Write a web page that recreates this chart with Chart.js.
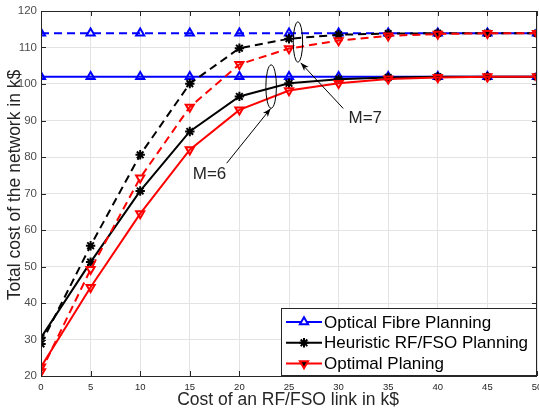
<!DOCTYPE html>
<html>
<head>
<meta charset="utf-8">
<script src="https://cdn.jsdelivr.net/npm/chart.js@4.4.0/dist/chart.umd.min.js"></script>
<style>
  html, body { margin: 0; padding: 0; background: #fff; }
  #wrap { width: 539px; height: 414px; }
</style>
</head>
<body>
<div id="wrap"><canvas id="myChart"></canvas></div>
<script>
// link cost in k$
var linkCost = [0, 5, 10, 15, 20, 25, 30, 35, 40, 45, 50];
var yTicks = [20, 30, 40, 50, 60, 70, 80, 90, 100, 110, 120];

// total network cost in k$ (M=6 solid, M=7 dashed)
var fibreM6 = [102, 102, 102, 102, 102, 102, 102, 102, 102, 102, 102];
var fibreM7 = [113.9, 113.9, 113.9, 113.9, 113.9, 113.9, 113.9, 113.9, 113.9, 113.9, 113.9];
var heurM6 = [30.5, 51.2, 70.7, 87, 96.6, 100.2, 101.3, 101.8, 102, 102, 102];
var heurM7 = [28.8, 55.7, 80.6, 100.1, 109.8, 112.4, 113.5, 113.8, 113.9, 113.9, 113.9];
var optM6 = [22.5, 44.3, 64.5, 82, 92.9, 98.2, 100.2, 101.4, 101.8, 102, 102];
var optM7 = [21.2, 49.2, 74.3, 93.7, 105.4, 109.7, 111.9, 113.2, 113.7, 113.9, 113.9];

var legendNames = ['Optical Fibre Planning', 'Heuristic RF/FSO Planning', 'Optimal Planing'];
var xTitle = 'Cost of an RF/FSO link in k$';
var yTitle = 'Total cost of the network in k$';

var FONT = '"Liberation Sans", Arial, sans-serif';
var TXT = '#262626';

function series(vals, color, style, rot, dashed, order) {
    return {
        data: vals,
        order: order,
        borderColor: color,
        borderWidth: 2,
        borderDash: dashed ? [8, 5] : [],
        pointStyle: style,
        pointRotation: rot,
        pointRadius: 4.7,
        pointBorderWidth: 2,
        pointBorderColor: color,
        pointBackgroundColor: 'rgba(0,0,0,0)',
        fill: false,
        tension: 0
    };
}

// box, ticks, titles, ellipses + arrows, legend
var decor = {
    id: 'decor',
    afterDraw: function(chart) {
        var ctx = chart.ctx, a = chart.chartArea;
        var x = chart.scales.x, y = chart.scales.y;
        ctx.save();
        // axes box
        ctx.strokeStyle = TXT;
        ctx.lineWidth = 1;
        ctx.strokeRect(a.left + 0.5, a.top + 0.5, a.right - a.left - 1, a.bottom - a.top);
        // inward ticks on all sides
        ctx.beginPath();
        linkCost.forEach(function(v) {
            var px = Math.round(x.getPixelForValue(v)) + 0.5;
            ctx.moveTo(px, a.bottom); ctx.lineTo(px, a.bottom - 5);
            ctx.moveTo(px, a.top); ctx.lineTo(px, a.top + 5);
        });
        yTicks.forEach(function(v) {
            var py = Math.round(y.getPixelForValue(v)) + 0.5;
            ctx.moveTo(a.left, py); ctx.lineTo(a.left + 5, py);
            ctx.moveTo(a.right, py); ctx.lineTo(a.right - 5, py);
        });
        ctx.stroke();

        // x tick labels (drawn here so the last one may run off the edge)
        ctx.fillStyle = TXT;
        ctx.font = '9.5px ' + FONT;
        ctx.textAlign = 'center';
        ctx.textBaseline = 'middle';
        linkCost.forEach(function(v) {
            ctx.fillText(String(v), x.getPixelForValue(v), a.bottom + 11);
        });

        // axis titles
        ctx.font = '17.5px ' + FONT;
        ctx.fillText(xTitle, 288, 400);
        ctx.save();
        ctx.translate(15.5, 185);
        ctx.rotate(-Math.PI / 2);
        ctx.fillText(yTitle, 0, 0);
        ctx.restore();

        // annotations
        ctx.strokeStyle = '#000';
        ctx.lineWidth = 1;
        function ellipse(vx, vy, rx, ry) {
            ctx.beginPath();
            ctx.ellipse(x.getPixelForValue(vx), y.getPixelForValue(vy), rx, ry, 0, 0, Math.PI * 2);
            ctx.stroke();
        }
        function arrow(x0, y0, x1, y1) {
            var ax = x.getPixelForValue(x0), ay = y.getPixelForValue(y0);
            var bx = x.getPixelForValue(x1), by = y.getPixelForValue(y1);
            ctx.beginPath(); ctx.moveTo(ax, ay); ctx.lineTo(bx, by); ctx.stroke();
            var ang = Math.atan2(by - ay, bx - ax);
            ctx.beginPath();
            ctx.moveTo(bx, by);
            ctx.lineTo(bx - 9 * Math.cos(ang - 0.35), by - 9 * Math.sin(ang - 0.35));
            ctx.lineTo(bx - 6 * Math.cos(ang), by - 6 * Math.sin(ang));
            ctx.lineTo(bx - 9 * Math.cos(ang + 0.35), by - 9 * Math.sin(ang + 0.35));
            ctx.closePath();
            ctx.fillStyle = '#000';
            ctx.fill();
        }
        ellipse(25.9, 111.5, 4.7, 20.3);
        ellipse(23.2, 99.3, 5.3, 21.7);
        arrow(18.72, 78.3, 23.15, 93.3);
        arrow(30.47, 93.3, 26.18, 105.8);
        ctx.fillStyle = TXT;
        ctx.font = '17px ' + FONT;
        ctx.textAlign = 'left';
        ctx.fillText('M=6', x.getPixelForValue(15.3), y.getPixelForValue(75.2));
        ctx.fillText('M=7', x.getPixelForValue(31.0), y.getPixelForValue(90.6));

        // legend box
        var lw = 256, lh = 68;
        var lx = a.right - lw, ly = a.bottom - lh;
        ctx.fillStyle = '#fff';
        ctx.fillRect(lx, ly, lw, lh);
        ctx.strokeStyle = TXT;
        ctx.strokeRect(lx + 0.5, ly + 0.5, lw - 1, lh - 1);
        var ds = chart.data.datasets;
        [0, 2, 4].forEach(function(di, i) {
            var d = ds[di];
            var cy = ly + 14 + i * 20.8;
            ctx.strokeStyle = d.borderColor;
            ctx.lineWidth = 2;
            ctx.setLineDash([]);
            ctx.beginPath(); ctx.moveTo(lx + 5, cy); ctx.lineTo(lx + 41, cy); ctx.stroke();
            Chart.helpers.drawPoint(ctx, {
                pointStyle: d.pointStyle, rotation: d.pointRotation, radius: 4.7, borderWidth: 2
            }, lx + 23, cy);
            ctx.fillStyle = '#000';
            ctx.font = '17px ' + FONT;
            ctx.fillText(legendNames[i], lx + 43, cy + 1);
        });
        ctx.restore();
    }
};

var ctx = document.getElementById('myChart').getContext('2d');
var chart = new Chart(ctx, {
    type: 'line',
    data: {
        labels: linkCost,
        datasets: [
            series(fibreM6, '#0000ff', 'triangle', 0, false, 3),
            series(fibreM7, '#0000ff', 'triangle', 0, true, 3),
            series(heurM6, '#000000', 'star', 0, false, 2),
            series(heurM7, '#000000', 'star', 0, true, 2),
            series(optM6, '#ff0000', 'triangle', 180, false, 1),
            series(optM7, '#ff0000', 'triangle', 180, true, 1)
        ]
    },
    options: {
        responsive: true,
        maintainAspectRatio: false,
        animation: false,
        layout: { autoPadding: false, padding: { top: 11, right: 2, left: 0, bottom: 0 } },
        plugins: { legend: { display: false }, tooltip: { enabled: false } },
        scales: {
            x: {
                type: 'linear',
                min: 0, max: 50,
                afterBuildTicks: function(s) { s.ticks = linkCost.map(function(v) { return { value: v }; }); },
                afterFit: function(s) { s.height = 38; },
                grid: { color: '#e3e3e3', drawTicks: false },
                border: { display: false },
                ticks: { display: false }
            },
            y: {
                min: 20, max: 120,
                afterBuildTicks: function(s) { s.ticks = yTicks.map(function(v) { return { value: v }; }); },
                afterFit: function(s) { s.width = 41; },
                grid: { color: '#e3e3e3', drawTicks: false },
                border: { display: false },
                ticks: { color: '#4d4d4d', font: { family: FONT, size: 11.5 }, padding: 4 }
            }
        }
    },
    plugins: [decor]
});
</script>
</body>
</html>
